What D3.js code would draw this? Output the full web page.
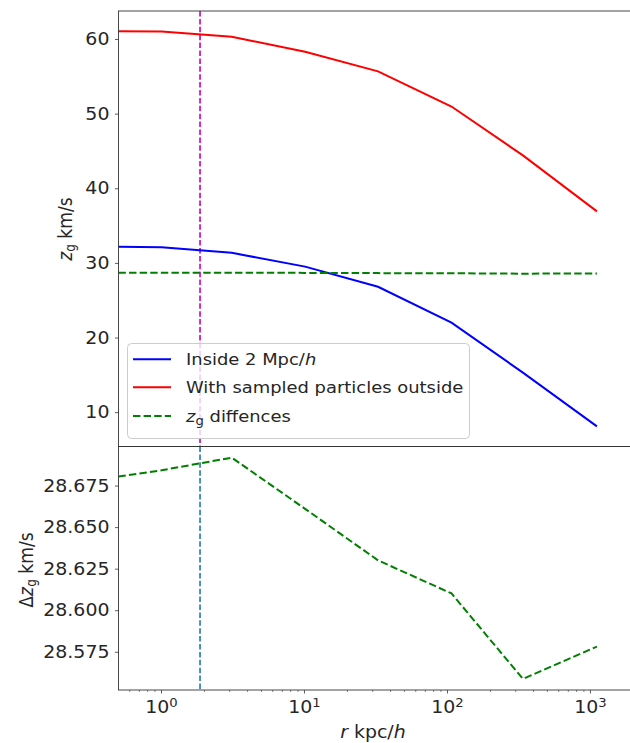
<!DOCTYPE html>
<html><head><meta charset="utf-8">
<script src="https://cdn.jsdelivr.net/npm/d3@7"></script>
<style>body{margin:0;background:#fff} text{font-family:"DejaVu Sans",sans-serif;fill:#262626}</style>
</head><body><svg id="c" width="630" height="743"></svg>
<script>
// ---- data ----
const radius      = [0.5, 1.0, 3.1, 10.1, 32.7, 106.7, 337, 1110];
const insideZg    = [32.15, 32.1, 31.35, 29.5, 26.8, 22.0, 15.3, 8.1];
const outsideZg   = [61.03, 61.0, 60.3, 58.3, 55.66, 50.95, 44.4, 36.9];
const zgDiff      = [28.6804, 28.6842, 28.6918, 28.661, 28.630, 28.6101, 28.5587, 28.5781];
const topYTicks   = [10, 20, 30, 40, 50, 60];
const botYTicks   = [28.575, 28.600, 28.625, 28.650, 28.675];
const xTickExps   = [0, 1, 2, 3];
const markerR     = 1.86;
const legendLabels = ["Inside 2 Mpc/", "With sampled particles outside", " diffences"];

// ---- layout ----
const SX = 1.1; // horizontal text stretch of the reference
const FS = 17.2, LFS = 16.3, SUB = 12;
const L = 118.45, R = 633.5, T1 = 11, B1 = 446.5, T2 = 446.5, B2 = 690;
const svg = d3.select("#c");
const x = d3.scaleLog().domain([0.5, 2000]).range([L, R]);
const yT = d3.scaleLinear().domain([5.4, 63.75]).range([B1, T1]);
const yB = d3.scaleLinear().domain([28.552, 28.6985]).range([B2, T2]);

svg.append("defs").call(d => {
  d.append("clipPath").attr("id","cp1").append("rect").attr("x",L).attr("y",T1).attr("width",R-L).attr("height",B1-T1);
  d.append("clipPath").attr("id","cp2").append("rect").attr("x",L).attr("y",T2).attr("width",R-L).attr("height",B2-T2);
});

function stretchText(sel){
  sel.each(function(){
    const t = d3.select(this);
    const tx = +t.attr("x")||0, ty = +t.attr("y")||0;
    t.attr("x",0).attr("y",0).attr("transform",`translate(${tx},${ty}) scale(${SX},1)`);
  });
}

// ---- top panel ----
const g1 = svg.append("g");
const line1 = (ys) => d3.line().x((d,i)=>x(radius[i])).y(d=>yT(d))(ys);
const p1 = g1.append("g").attr("clip-path","url(#cp1)");
p1.append("line").attr("x1",x(markerR)).attr("x2",x(markerR)).attr("y1",T1).attr("y2",B1)
  .attr("stroke","#bf00bf").attr("stroke-width",1.6).attr("stroke-dasharray","5.5,2.4");
p1.append("path").attr("d",line1(insideZg)).attr("fill","none").attr("stroke","#0000ff").attr("stroke-width",2);
p1.append("path").attr("d",line1(outsideZg)).attr("fill","none").attr("stroke","#ff0000").attr("stroke-width",2);
p1.append("path").attr("d",line1(zgDiff)).attr("fill","none").attr("stroke","#008000").attr("stroke-width",2).attr("stroke-dasharray","7.4,3.2");

const ay1 = g1.append("g").attr("transform",`translate(${L},0)`)
  .call(d3.axisLeft(yT).tickValues(topYTicks).tickSize(3.5).tickPadding(5.5).tickFormat(d3.format("d")));
ay1.select(".domain").remove();
ay1.selectAll("line").attr("stroke","#333").attr("stroke-width",0.8);
ay1.selectAll("text").attr("font-size",FS).attr("fill","#262626").attr("font-family","DejaVu Sans");
ay1.selectAll("text").each(function(){ const t=d3.select(this); t.attr("transform",`scale(${SX},1)`).attr("x",(+t.attr("x"))/SX); });

// ---- bottom panel ----
const g2 = svg.append("g");
const p2 = g2.append("g").attr("clip-path","url(#cp2)");
p2.append("line").attr("x1",x(markerR)).attr("x2",x(markerR)).attr("y1",T2).attr("y2",B2)
  .attr("stroke","#1f77b4").attr("stroke-width",1.6).attr("stroke-dasharray","5.5,2.4");
p2.append("path").attr("d",d3.line().x((d,i)=>x(radius[i])).y(d=>yB(d))(zgDiff))
  .attr("fill","none").attr("stroke","#008000").attr("stroke-width",2).attr("stroke-dasharray","7.4,3.2");

const ay2 = g2.append("g").attr("transform",`translate(${L},0)`)
  .call(d3.axisLeft(yB).tickValues(botYTicks).tickSize(3.5).tickPadding(5.5).tickFormat(d3.format(".3f")));
ay2.select(".domain").remove();
ay2.selectAll("line").attr("stroke","#333").attr("stroke-width",0.8);
ay2.selectAll("text").attr("font-size",FS).attr("fill","#262626").attr("font-family","DejaVu Sans");
ay2.selectAll("text").each(function(){ const t=d3.select(this); t.attr("transform",`scale(${SX},1)`).attr("x",(+t.attr("x"))/SX); });

// x axis (log) major + minor ticks
const ax = g2.append("g");
xTickExps.forEach(e => {
  const v = Math.pow(10,e);
  ax.append("line").attr("x1",x(v)).attr("x2",x(v)).attr("y1",B2).attr("y2",B2+3.5).attr("stroke","#333").attr("stroke-width",0.8);
  const t = ax.append("text").attr("x",x(v)).attr("y",713).attr("text-anchor","middle").attr("font-size",FS);
  t.append("tspan").text("10");
  t.append("tspan").attr("font-size",SUB).attr("dy",-6).text(String(e));
  stretchText(t);
});
const minor = [];
[-1,0,1,2,3].forEach(e => { for (let k=2;k<=9;k++){ const v=k*Math.pow(10,e); if (v>x.domain()[0] && v<x.domain()[1]) minor.push(v);} });
ax.selectAll(".mn").data(minor).join("line").attr("class","mn")
  .attr("x1",d=>x(d)).attr("x2",d=>x(d)).attr("y1",B2).attr("y2",B2+2).attr("stroke","#333").attr("stroke-width",0.6);

// ---- spines ----
const sp = svg.append("g").attr("stroke","#333").attr("stroke-width",0.9).attr("fill","none");
sp.append("rect").attr("x",L).attr("y",T1).attr("width",R-L).attr("height",B1-T1);
sp.append("rect").attr("x",L).attr("y",T2).attr("width",R-L).attr("height",B2-T2);

// ---- axis labels ----
const yl1 = svg.append("text").attr("transform","translate(72,229) rotate(-90) scale(1,1.1)").attr("text-anchor","middle").attr("font-size",FS);
yl1.append("tspan").attr("font-style","italic").text("z");
yl1.append("tspan").attr("font-size",SUB).attr("dy",3).text("g");
yl1.append("tspan").attr("dy",-3).text(" km/s");
const yl2 = svg.append("text").attr("transform","translate(33,570) rotate(-90) scale(1,1.1)").attr("text-anchor","middle").attr("font-size",FS);
yl2.append("tspan").text("Δ");
yl2.append("tspan").attr("font-style","italic").text("z");
yl2.append("tspan").attr("font-size",SUB).attr("dy",3).text("g");
yl2.append("tspan").attr("dy",-3).text(" km/s");
const xl = svg.append("text").attr("x",(L+R)/2-3).attr("y",738).attr("text-anchor","middle").attr("font-size",FS);
xl.append("tspan").attr("font-style","italic").text("r");
xl.append("tspan").text(" kpc/");
xl.append("tspan").attr("font-style","italic").text("h");
stretchText(xl);

// ---- legend ----
const lg = svg.append("g");
lg.append("rect").attr("x",127.5).attr("y",343.5).attr("width",342).attr("height",95).attr("rx",4)
  .attr("fill","#fff").attr("fill-opacity",0.8).attr("stroke","#cccccc").attr("stroke-width",1);
const rows = [
  {c:"#0000ff", dash:null, y:359.3},
  {c:"#ff0000", dash:null, y:387.3},
  {c:"#008000", dash:"7.4,3.2", y:416}
];
rows.forEach((r,i) => {
  lg.append("line").attr("x1",133).attr("x2",171).attr("y1",r.y).attr("y2",r.y).attr("stroke",r.c).attr("stroke-width",2)
    .attr("stroke-dasharray",r.dash);
  const t = lg.append("text").attr("x",186).attr("y",r.y+6).attr("font-size",LFS);
  if (i===0){ t.append("tspan").text(legendLabels[0]); t.append("tspan").attr("font-style","italic").text("h"); }
  else if (i===1){ t.text(legendLabels[1]); }
  else { t.append("tspan").attr("font-style","italic").text("z"); t.append("tspan").attr("font-size",SUB).attr("dy",3).text("g");
         t.append("tspan").attr("dy",-3).text(legendLabels[2]); }
  stretchText(t);
});
</script></body></html>
